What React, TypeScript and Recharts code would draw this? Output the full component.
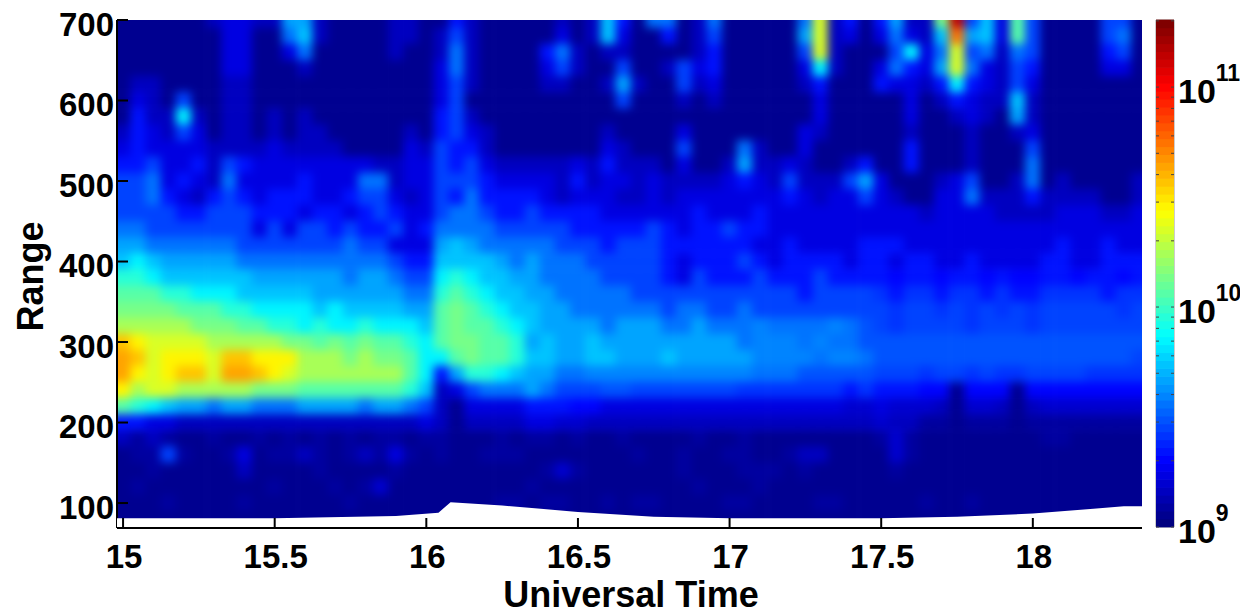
import React from 'react';
import {
  Area, ComposedChart, ReferenceArea, Scatter, ScatterChart, XAxis, YAxis,
} from 'recharts';

const FONT = '"Liberation Sans", Arial, sans-serif';

const times = [
  15.0, 15.05, 15.1, 15.15, 15.2, 15.25, 15.3, 15.35, 15.4, 15.45,
  15.5, 15.55, 15.6, 15.65, 15.7, 15.75, 15.8, 15.85, 15.9, 15.95,
  16.0, 16.05, 16.1, 16.15, 16.2, 16.25, 16.3, 16.35, 16.4, 16.45,
  16.5, 16.55, 16.6, 16.65, 16.7, 16.75, 16.8, 16.85, 16.9, 16.95,
  17.0, 17.05, 17.1, 17.15, 17.2, 17.25, 17.3, 17.35, 17.4, 17.45,
  17.5, 17.55, 17.6, 17.65, 17.7, 17.75, 17.8, 17.85, 17.9, 17.95,
  18.0, 18.05, 18.1, 18.15, 18.2, 18.25, 18.3, 18.35,
];

// density per row, in tenths of a decade above 1e9
const r700 = [1,1,1,1,1,1,2,3,3,2, 2,7,7,2,1,1,1,1,2,2, 1,1,4,2,1,1,1,1,1,2, 1,2,8,4,1,6,6,1,2,6, 1,1,1,1,1,6,14,2,4,1, 4,7,2,2,12,22,5,8,3,11, 5,1,1,1,1,5,5,1];
const r680 = [1,1,1,1,1,1,1,3,3,1, 1,6,8,2,1,1,1,1,2,2, 1,2,5,2,1,1,1,1,1,3, 1,2,8,3,1,1,4,1,2,5, 1,1,1,1,1,7,14,2,3,1, 3,6,3,2,8,18,7,8,3,11, 5,1,1,1,1,5,6,1];
const r660 = [1,1,1,1,1,1,1,3,3,1, 1,3,6,1,1,1,1,1,2,1, 1,2,6,2,1,1,1,1,4,6, 2,1,2,2,1,1,1,1,2,4, 1,1,1,1,1,5,14,2,1,1, 1,5,9,3,6,14,5,6,2,6, 5,1,1,1,1,4,5,1];
const r640 = [1,1,1,1,1,1,1,3,3,1, 1,1,2,1,1,1,1,1,1,1, 1,3,6,2,1,1,1,1,3,5, 2,1,1,5,1,1,2,5,3,4, 1,1,1,1,1,3,9,2,1,1, 3,6,4,3,7,14,6,3,2,5, 4,1,1,1,1,3,3,1];
const r620 = [1,2,2,1,1,1,1,2,2,1, 1,1,1,1,1,1,1,1,1,1, 1,3,5,2,1,1,1,1,2,2, 1,1,2,7,2,1,1,5,2,3, 1,1,1,1,1,2,4,1,1,1, 4,3,3,2,4,9,4,3,2,5, 3,1,1,1,1,1,1,1];
const r600 = [1,3,2,1,5,1,1,2,2,1, 1,1,1,1,1,1,1,1,1,1, 1,3,5,1,1,1,1,1,1,1, 1,1,1,5,1,1,1,2,1,2, 1,1,1,1,1,1,3,1,1,1, 1,1,3,1,2,4,3,2,2,8, 2,1,1,1,1,1,1,1];
const r580 = [1,4,2,2,9,2,1,2,2,1, 2,1,2,1,1,1,1,1,1,1, 1,4,5,2,1,1,1,1,1,1, 1,1,1,1,1,1,1,1,1,1, 1,1,1,1,1,1,3,1,1,1, 1,1,3,1,1,2,3,2,1,7, 2,1,1,1,1,1,1,1];
const r560 = [2,4,3,2,5,3,1,2,2,1, 2,1,2,2,1,1,1,1,1,2, 1,4,5,3,2,1,1,1,1,1, 1,1,2,1,1,1,1,3,1,1, 1,1,1,1,1,3,2,1,1,1, 1,1,2,1,1,1,2,1,1,2, 3,1,1,1,1,1,1,1];
const r540 = [3,4,3,3,3,3,2,2,2,2, 3,2,2,2,2,1,1,1,1,3, 2,5,4,4,2,1,1,1,1,1, 1,1,3,2,1,1,1,5,1,1, 1,6,2,1,1,3,1,1,1,1, 1,1,4,1,1,1,2,1,1,1, 5,1,1,1,1,1,1,1];
const r520 = [4,4,5,3,3,4,2,5,4,3, 3,3,3,3,3,3,3,2,2,3, 3,5,4,5,3,2,2,2,2,2, 3,2,4,2,2,2,1,3,1,1, 2,7,2,2,3,2,1,1,2,4, 1,1,4,1,1,1,2,1,1,1, 6,1,1,1,1,1,1,1];
const r500 = [5,5,6,3,4,3,2,6,3,3, 3,3,4,3,3,3,6,6,2,3, 3,5,5,5,4,3,3,3,3,2, 4,2,3,3,2,3,2,2,2,2, 3,4,3,2,5,2,2,2,5,7, 3,1,1,1,2,3,5,1,1,2, 6,1,2,1,1,1,1,2];
const r480 = [5,5,6,4,3,2,4,5,4,3, 4,4,4,3,3,4,5,5,3,2, 3,5,4,6,4,4,4,4,3,2, 3,3,3,2,2,3,2,3,3,3, 3,3,3,3,4,3,2,3,3,5, 3,2,1,1,3,3,6,2,2,2, 4,2,2,2,2,1,1,2];
const r460 = [5,5,5,5,4,4,5,5,5,4, 4,4,3,4,4,3,4,5,4,3, 3,5,6,6,5,4,4,5,4,4, 4,4,3,3,3,3,3,3,4,3, 3,3,4,3,3,3,3,3,3,3, 3,3,3,2,3,3,3,3,2,2, 2,2,3,3,3,2,2,3];
const r440 = [6,6,5,5,5,5,5,5,5,3, 5,3,5,5,4,5,4,4,5,3, 4,6,6,6,6,5,5,5,5,5, 4,4,4,4,4,5,4,3,4,4, 5,4,4,3,3,3,3,3,3,3, 3,3,3,3,3,3,3,3,3,3, 3,3,3,3,3,3,3,3];
const r420 = [7,7,6,6,6,6,6,6,5,5, 5,5,5,5,5,6,5,5,3,3, 3,7,8,7,6,6,6,6,6,5, 5,5,4,5,5,5,4,4,4,4, 4,4,3,3,4,3,3,3,3,4, 4,4,3,3,3,3,3,3,3,3, 3,3,4,3,3,4,3,3];
const r400 = [8,9,8,7,7,7,7,7,6,6, 6,6,6,6,6,6,6,6,5,4, 4,8,8,8,8,7,6,7,6,6, 6,5,5,5,5,5,4,3,4,4, 4,5,4,3,4,4,4,4,3,4, 4,3,4,4,3,3,4,3,3,3, 3,4,4,3,3,4,4,4];
const r380 = [10,10,9,8,8,8,8,8,8,7, 7,7,7,7,7,6,7,7,6,5, 5,9,10,9,8,8,7,7,6,6, 6,6,5,5,5,5,4,3,5,4, 4,4,5,4,4,4,5,4,4,4, 4,3.5,4,4,3.5,4,4,3.5,4,3.5, 3.5,4,4,3.5,4,4,3.5,4];
const r360 = [11,11,11,10,10,9,9,9,8,8, 8,8,8,7,7,7,7,7,7,6, 6,10,11,10,9,8,8,7,7,6, 6,6,6,6,5,5,5,5,5,5, 5,5,5,5,5,4,5,5,5,5, 4.5,4,4.5,4.5,4,4.5,4.5,4,4.5,4, 4,4.5,4.5,4.5,4.5,4,4.5,4.5];
const r340 = [12,12,12,12,11,11,11,10,10,9, 9,9,9,8,9,8,8,8,8,7, 7,11,12,11,10,9,8,8,7,7, 6,6,6,6,6,6,5,6,6,5, 5,6,5,5,5,5,5,5,5,5, 5,4.5,5,5,4.5,5,4.5,5,4.5,5, 4.5,5,5,5,5,5,4.5,5];
const r320 = [13,13,13,13,13,12,12,12,11,11, 10,10,9,10,9,9,10,9,9,9, 8,11,12,11,11,10,9,8,7,7, 7,7,6,7,7,7,6,6,7,6, 6,6,6.5,6,6,6,6,6.5,6,5.5, 5,4.5,5,5,5,5,4.5,5,5,5, 4.5,5,5,5,5,5,5,5];
const r300 = [16,15,14,14,14,14,13,13,13,13, 13,12,12,11,12,11,12,11,11,10, 9,11,12,12,11,11,10,7,8,7, 7,8,7,7,7,7,7,7,7,7, 7,6,6.5,6.5,6.5,6,6.5,6,6,5.5, 5.5,5.5,5.5,5.5,5.5,5.5,5.5,5.5,5.5,5.5, 5.5,5.5,5.5,5.5,5.5,5.5,5.5,5.5];
const r280 = [17,16,14,15,15,15,14,16,16,15, 15,15,13,13,13,12,13,12,12,11, 9,9,11,12,11,11,10,8,8,7, 7,8,8,7,7,7,8,7,7,7, 7,7,6.5,6.5,6.5,6.5,6,6.5,6.5,6, 5.5,5.5,5.5,5.5,5.5,5.5,5.5,5.5,5.5,5.5, 5.5,5.5,5.5,5.5,5.5,5.5,5.5,5];
const r260 = [17,15,14,15,16,16,14,17,17,16, 15,14,13,13,13,13,13,13,13,11, 9,4,7,10,10,9,8,7,7,6, 6,6.5,6.5,6.5,6.5,6.5,6.5,6.5,6.5,6.5, 6.5,6.5,6,6,6,5.5,5.5,5.5,5.5,5.5, 5,5,5,4.5,5,5,4.5,5,4.5,4.5, 5,5,5,5,4.5,4.5,4.5,4.5];
const r240 = [15,13,14,14,13,13,13,13,13,12, 12,12,11,11,11,11,11,11,11,10, 8,2,3,5,6,6,6,7,6,5, 5,5,5.5,5.5,5,5,5,5,5,5, 5,4.5,4.5,4.5,4.5,4.5,4.5,4.5,4,4.5, 4,4,4,3.5,3.5,1,3.5,3.5,3.5,1, 3.5,3.5,3.5,3.5,3.5,3.5,3.5,3.5];
const r220 = [11,10,9,8,7,7,6,7,7,6, 6,6,7,7,7,7,6,7,7,6, 5,2,1,3,3,3,3,4,4,4, 3.5,3.5,3,3,3,3,3,3,3,3, 3,3,3,3,3,3,3,3,2.5,2.5, 3,2.5,2.5,2.5,2,1,2.5,2.5,2,1, 2,2.5,2.5,2.5,2.5,2.5,2.5,2.5];
const r200 = [4,4,3,3,2,2,2,2,2,2, 2,2,2,2,2,2,2,2,2,2, 3,2,1,2,2,2,2,3,3,2.5, 2.5,2,2,2,2,2,2,2,2,2, 2,2,2,2,2,2,2,2,2,2, 2.5,2,2,1.5,1.5,1,1.5,1.5,1.5,1, 1.5,1.5,1.5,1.5,1.5,1.5,1.5,1.5];
const r180 = [2,1.5,2,1.5,1,1,1.5,1,1,1.5, 1,1.5,1,1.5,1,1.5,1,1.5,1.5,1, 1.5,1.5,1,1,1,1.5,1,1.5,1.5,1, 1.5,1,1,1.5,1,1,1,1,1.5,1, 1,1.5,1,1,1,1,1,1,1,1, 1.5,2.5,1.5,1,1,1,1,1,1,1, 1,1.5,1.5,1,1,1,1,1];
const r160 = [1,1.5,1.5,5,1.5,1,1,1.5,3,1, 1.5,1.5,2,1.5,1,1.5,2,1.5,3,1.5, 1,1.5,1,1,1.5,1.5,1.5,1,1,1, 1,1,1,1,1.5,1,1,1.5,1,1, 1.5,1.5,1,1,1.5,2,2,1,1,1, 1,2.5,1.5,1,1,1,1,1,1,1, 1,1,1,1,1,1,1,1];
const r140 = [1,1,1.5,1,1,1,1,1,2,1, 1,1,1,1.5,1,1,1,1,1.5,1, 1,1,1,1,1,1,1,1,1.5,2.5, 1.5,1,1,1,1,1,1,1.5,1,1, 1,1.5,1.5,1.5,1,1.5,1,1,1,1, 1,1.5,1,1,1,1,1,1,1,1, 1,1,1,1,1,1,1,1];
const r120 = [1,1.5,1,1,1,1,1,1,1,1, 1.5,1,1,1,1.5,1,1.5,2.5,1,1, 1,1,1,1,1,1,1,1.5,1,1, 1,1,1,1,1,1,1,1,1.5,1, 1,1,1.5,1,1,1,1,1,1,1, 1,1,1,1,1,1,1,1,1,1, 1,1,1,1,1,1,1,1];
const r100 = [1,1,1,1.5,1,1,1,1,1.5,1, 1,1,1,1,1,1.5,1,1,1,1, 1,1,1,1,1,1.5,1.5,1,1.5,1.5, 1,1,1.5,1,1.5,1.5,1,1,1,1, 1.5,1.5,1,1,1,1,1.5,1.5,1,1, 1,1,1,1.5,1,1,1.5,1,1,1, 1,1,1,1,1,1,1,1];
const r80 = [1,1,1,1,1,1,1,1,1,1, 1,1,1,1,1,1,1,1,1,1, 1,1,1,1,1,1,1,1,1,1, 1,1,1,1,1,1,1,1,1,1, 1,1,1,1,1,1,1,1,1,1, 1,1,1,1,1,1,1,1,1,1, 1,1,1,1,1,1,1,1];

const ranges = [700,680,660,640,620,600,580,560,540,520,500,480,460,440,420,400,380,360,340,320,300,280,260,240,220,200,180,160,140,120,100,80];
const rows = [r700,r680,r660,r640,r620,r600,r580,r560,r540,r520,r500,r480,r460,r440,r420,r400,r380,r360,r340,r320,r300,r280,r260,r240,r220,r200,r180,r160,r140,r120,r100,r80];

// lower limit of the measured range: below it the plot stays white
const floorTimes = [14.98, 15.5, 15.9, 16.04, 16.08, 16.25, 16.5, 16.75, 17.0, 17.5, 17.75, 18.0, 18.2, 18.3, 18.36];
const floorRanges = [81, 81, 84, 88, 101, 97, 89, 83, 81, 81, 83, 87, 93, 96, 96];

const xTicks = [15, 15.5, 16, 16.5, 17, 17.5, 18];
const yTicks = [100, 200, 300, 400, 500, 600, 700];
const barTicks = [
  1e9, 2e9, 3e9, 4e9, 5e9, 6e9, 7e9, 8e9, 9e9,
  1e10, 2e10, 3e10, 4e10, 5e10, 6e10, 7e10, 8e10, 9e10,
  1e11, 2e11,
];
const barLevels = [
  0,1,2,3,4,5,6,7,8,9,10,11,12,13,14,15,16,17,18,19,20,21,22,23,24,25,26,27,28,29,30,31,
  32,33,34,35,36,37,38,39,40,41,42,43,44,45,46,47,48,49,50,51,52,53,54,55,56,57,58,59,60,61,62,63,
];

const X_DOMAIN = [14.98, 18.36];
const Y_DOMAIN = [69, 700];
const TOP_LOG = 11.305;
const CELL_W = 15.8;
const CELL_H = 16.7;

const clamp = (v: number) => Math.max(0, Math.min(1, v));
function jet(t: number) {
  const q = Math.min(63, Math.floor(t * 64)) / 63;
  const r = clamp(Math.min(4 * q - 1.5, -4 * q + 4.5));
  const g = clamp(Math.min(4 * q - 0.5, -4 * q + 3.5));
  const b = clamp(Math.min(4 * q + 0.5, -4 * q + 2.5));
  return `rgb(${Math.round(r * 255)},${Math.round(g * 255)},${Math.round(b * 255)})`;
}

const cells = rows.flatMap((row, i) => row.map((level, j) => ({
  t: times[j],
  r: ranges[i],
  level,
})));
const floorData = floorTimes.map((t, i) => ({ t, floor: floorRanges[i] }));
const barData = barLevels.map((k) => ({
  x: 0.5,
  v: Math.pow(10, 9 + ((k + 0.5) / 64) * (TOP_LOG - 9)),
  k,
}));

// cells on the rim run past the plot so the blur does not fade at the border
function HeatCell({ cx, cy, payload }: any) {
  const left = payload.t === times[0] ? 40 : 0;
  const right = payload.t === times[times.length - 1] ? 40 : 0;
  const top = payload.r === ranges[0] ? 40 : 0;
  const bottom = payload.r === ranges[ranges.length - 1] ? 40 : 0;
  const t = (payload.level - 0.5) / 10 / (TOP_LOG - 9);
  return (
    <rect
      x={cx - CELL_W / 2 - left}
      y={cy - CELL_H / 2 - top}
      width={CELL_W + left + right}
      height={CELL_H + top + bottom}
      fill={jet(Math.max(0, t))}
    />
  );
}

function BarCell({ cx, cy, payload }: any) {
  return <rect x={cx - 9} y={cy - 4.3} width={18} height={8.6} fill={jet((payload.k + 0.5) / 64)} />;
}

function XTick({ x, payload }: any) {
  return (
    <g>
      <line x1={x} x2={x} y1={518} y2={528} stroke="#000" strokeWidth={2} />
      <text x={x + 1} y={568} textAnchor="middle" fontFamily={FONT} fontWeight="bold" fontSize={33} fill="#000">
        {payload.value}
      </text>
    </g>
  );
}

function YTick({ y, payload }: any) {
  return (
    <g>
      <line x1={117} x2={128} y1={y} y2={y} stroke="#000" strokeWidth={2} />
      <text x={114} y={y + 15.5} textAnchor="end" fontFamily={FONT} fontWeight="bold" fontSize={33} fill="#000">
        {payload.value}
      </text>
    </g>
  );
}

function BarTick({ y, payload }: any) {
  const exponent = Math.log10(payload.value);
  const major = Math.abs(exponent - Math.round(exponent)) < 1e-6;
  return (
    <g>
      <line x1={6} x2={9} y1={y} y2={y} stroke="#444" strokeWidth={1} />
      <line x1={21} x2={24} y1={y} y2={y} stroke="#444" strokeWidth={1} />
      {major && (
        <text x={28} y={y + 16} fontFamily={FONT} fontWeight="bold" fontSize={34} fill="#000">
          10
          <tspan dy={-22} fontSize={23}>{Math.round(exponent)}</tspan>
        </text>
      )}
    </g>
  );
}

const layer = { position: 'absolute', left: 0, top: 0 } as const;

export default function App() {
  return (
    <div style={{ position: 'absolute', left: 0, top: 0, width: 1240, height: 610, background: '#fff' }}>
      <style>{'.heat .recharts-scatter{filter:blur(5px);clip-path:url(#plotClip)}'}</style>
      <div className="heat" style={layer}>
        <ComposedChart width={1240} height={610} margin={{ top: 20, right: 98, bottom: 82, left: 0 }}>
          <defs>
            <clipPath id="plotClip">
              <rect x={118} y={20} width={1024} height={507} />
            </clipPath>
          </defs>
          <XAxis dataKey="t" type="number" domain={X_DOMAIN} hide />
          <YAxis
            dataKey="r"
            type="number"
            domain={Y_DOMAIN}
            ticks={yTicks}
            interval={0}
            width={117}
            tick={YTick}
            tickLine={false}
            axisLine={{ stroke: '#000', strokeWidth: 2 }}
          />
          <Scatter data={cells} dataKey="r" shape={HeatCell} isAnimationActive={false} />
        </ComposedChart>
      </div>
      <div style={layer}>
        <ComposedChart width={1240} height={610} margin={{ top: 20, right: 98, bottom: 0, left: 117 }}>
          <YAxis type="number" domain={Y_DOMAIN} hide />
          <Area data={floorData} dataKey="floor" type="linear" fill="#fff" fillOpacity={1} stroke="none" dot={false} activeDot={false} isAnimationActive={false} />
          <XAxis
            dataKey="t"
            type="number"
            domain={X_DOMAIN}
            ticks={xTicks}
            interval={0}
            height={82}
            tick={XTick}
            tickLine={false}
            axisLine={{ stroke: '#000', strokeWidth: 2 }}
          />
          <text x={631} y={607} textAnchor="middle" fontFamily={FONT} fontWeight="bold" fontSize={36} fill="#000">
            Universal Time
          </text>
          <text x={43} y={276.5} transform="rotate(-90 43 276.5)" textAnchor="middle" fontFamily={FONT} fontWeight="bold" fontSize={36} fill="#000">
            Range
          </text>
        </ComposedChart>
      </div>
      <div style={{ position: 'absolute', left: 1150, top: 0 }}>
        <ScatterChart width={90} height={610} margin={{ top: 20, right: 0, bottom: 83, left: 6 }}>
          <XAxis dataKey="x" type="number" domain={[0, 1]} hide />
          <YAxis
            dataKey="v"
            type="number"
            scale="log"
            orientation="right"
            domain={[1e9, Math.pow(10, TOP_LOG)]}
            ticks={barTicks}
            interval={0}
            width={66}
            tick={BarTick}
            tickLine={false}
            axisLine={false}
          />
          <Scatter data={barData} shape={BarCell} isAnimationActive={false} />
          <ReferenceArea x1={0} x2={1} y1={1e9} y2={Math.pow(10, TOP_LOG)} fill="none" stroke="#999" strokeWidth={1} />
        </ScatterChart>
      </div>
    </div>
  );
}
